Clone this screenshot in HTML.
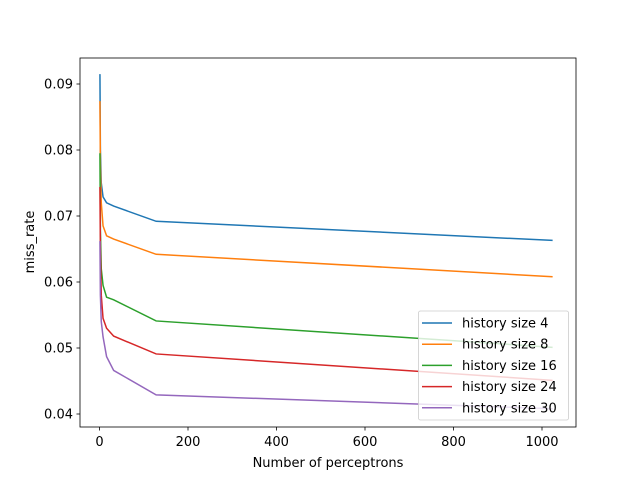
<!DOCTYPE html>
<html><head><meta charset="utf-8"><style>body{margin:0;background:#fff}svg{display:block;font-family:"DejaVu Sans","Liberation Sans",sans-serif}</style></head>
<body>
<svg id="c" width="640" height="480"></svg>
<script>
const xs=[1,2,4,8,16,32,128,1024];
const labels=["history size 4","history size 8","history size 16","history size 24","history size 30"];
const s4=[0.0915,0.080,0.075,0.0729,0.0720,0.0715,0.0692,0.0663];
const s8=[0.0874,0.078,0.072,0.0685,0.0670,0.0665,0.0642,0.0608];
const s16=[0.0795,0.068,0.062,0.0595,0.0577,0.0573,0.0541,0.0501];
const s24=[0.0744,0.065,0.058,0.0545,0.0530,0.0518,0.0491,0.0451];
const s30=[0.0662,0.058,0.054,0.0517,0.0487,0.0466,0.0429,0.0408];
const xticks=[0,200,400,600,800,1000];
const yticks=[0.04,0.05,0.06,0.07,0.08,0.09];
const series=[s4,s8,s16,s24,s30];
const colors=['#1f77b4','#ff7f0e','#2ca02c','#d62728','#9467bd'];
const NS='http://www.w3.org/2000/svg';
const svg=document.getElementById('c');
const L=80,R=576,T=58,B=427;
const X=v=>99.5+v*0.4425;
const Y=v=>84+(0.09-v)*6600;
function mk(t,a,p){const e=document.createElementNS(NS,t);for(const k in a)e.setAttribute(k,a[k]);(p||svg).appendChild(e);return e;}
series.forEach((s,i)=>{
 const p=mk('polyline',{points:s.map((v,j)=>X(xs[j])+','+Y(v)).join(' '),fill:'none',stroke:colors[i],'stroke-width':1.5});
 
 
});
const fr=mk('rect',{x:L,y:T,width:R-L,height:B-T,fill:'none',stroke:'#000','stroke-width':0.8});


xticks.forEach(v=>{
 mk('line',{x1:X(v),x2:X(v),y1:B,y2:B+3.5,stroke:'#000','stroke-width':0.8});
 const t=mk('text',{x:X(v),y:B+19,'text-anchor':'middle','font-size':13});t.textContent=v;
 
 
});
yticks.forEach(v=>{
 mk('line',{x1:L,x2:L-3.5,y1:Y(v),y2:Y(v),stroke:'#000','stroke-width':0.8});
 const t=mk('text',{x:L-7,y:Y(v)+4.5,'text-anchor':'end','font-size':13});t.textContent=v.toFixed(2);
 
 
});
const xl=mk('text',{x:328,y:467,'text-anchor':'middle','font-size':13});xl.textContent='Number of perceptrons';


const yl=mk('text',{x:0,y:0,'text-anchor':'middle','font-size':13,transform:'translate(34,242) rotate(-90)'});yl.textContent='miss_rate';


const lg=mk('g',{});


mk('rect',{x:418.5,y:311,width:150,height:109,rx:2,fill:'#fff','fill-opacity':0.8,stroke:'#ccc','stroke-width':0.8},lg);
labels.forEach((l,i)=>{
 const y=323+i*21.2;
 const g=mk('g',{},lg);
 
 
 mk('line',{x1:422,x2:452,y1:y,y2:y,stroke:colors[i],'stroke-width':1.5},g);
 const t=mk('text',{x:462,y:y+4.5,'font-size':13},g);t.textContent=l;
});
</script>
</body></html>
